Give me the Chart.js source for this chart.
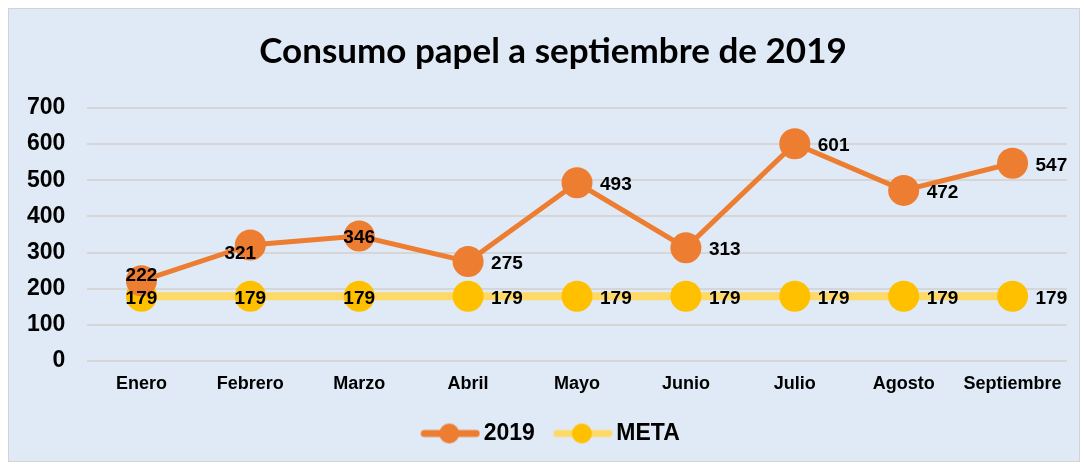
<!DOCTYPE html>
<html>
<head>
<meta charset="utf-8">
<script src="https://cdn.jsdelivr.net/npm/chart.js@4.4.1/dist/chart.umd.min.js"></script>
<style>
  html, body { margin: 0; padding: 0; background: #fff; }
  #frame {
    position: absolute; left: 8px; top: 8px; width: 1072px; height: 454px;
    background: #dfeaf6; border: 1px solid #d3d3d3; box-sizing: border-box;
  }
  #wrap { position: absolute; left: 0; top: 0; width: 1070px; height: 452px; }
</style>
</head>
<body>
<div id="frame"><div id="wrap"><canvas id="cPapel"></canvas></div></div>
<script>
// ===== Consumo papel 2019 =====
const months = ['Enero', 'Febrero', 'Marzo', 'Abril', 'Mayo', 'Junio', 'Julio', 'Agosto', 'Septiembre'];
const consumo2019 = [222, 321, 346, 275, 493, 313, 601, 472, 547];
const meta = [179, 179, 179, 179, 179, 179, 179, 179, 179];
const yTicks = [0, 100, 200, 300, 400, 500, 600, 700];

// where each value label sits relative to its point: c = centered, r = right, t = above
const pos2019 = ['t', 'cl', 'c', 'r', 'r', 'r', 'r', 'r', 'r'];
const posMeta = ['c', 'c', 'c', 'r', 'r', 'r', 'r', 'r', 'r'];

const ORANGE = '#ed7d31';
const YELLOW = '#ffc000';
const YELLOW_LINE = '#ffd966';
const FONT = '"Liberation Sans", Arial, sans-serif';

// legend swatch: line with circle in the middle
function swatch(line, dot, lw) {
    const c = document.createElement('canvas');
    c.width = 62; c.height = 24;
    const x = c.getContext('2d');
    x.strokeStyle = line; x.lineWidth = lw; x.lineCap = 'round';
    x.beginPath(); x.moveTo(6, 12); x.lineTo(58, 12); x.stroke();
    x.fillStyle = dot;
    x.beginPath(); x.arc(31, 12, 10, 0, Math.PI * 2); x.fill();
    return c;
}

const valueLabels = {
    id: 'valueLabels',
    afterDatasetsDraw(chart) {
        const ctx = chart.ctx;
        ctx.save();
        ctx.font = 'bold 19px ' + FONT;
        ctx.fillStyle = '#000';
        ctx.textBaseline = 'middle';
        chart.data.datasets.forEach((ds, di) => {
            const places = ds.label === 'META' ? posMeta : pos2019;
            chart.getDatasetMeta(di).data.forEach((pt, i) => {
                const p = places[i];
                let x = pt.x, y = pt.y + 2;
                ctx.textAlign = 'center';
                if (p === 'r') { ctx.textAlign = 'left'; x += 23; }
                if (p === 't') { y -= 7; }
                if (p === 'cl') { x -= 10; y += 7; }
                ctx.fillText(ds.data[i], x, y);
            });
        });
        ctx.restore();
    }
};

const ctx = document.getElementById('cPapel').getContext('2d');
new Chart(ctx, {
    type: 'line',
    data: {
        labels: months,
        datasets: [
            {
                label: 'META', data: meta, order: 2,
                borderColor: YELLOW_LINE, backgroundColor: YELLOW,
                borderWidth: 8, pointRadius: 15.5, pointHoverRadius: 15.5,
                pointBorderWidth: 0, pointBackgroundColor: YELLOW
            },
            {
                label: '2019', data: consumo2019, order: 1,
                borderColor: ORANGE, backgroundColor: ORANGE,
                borderWidth: 5, pointRadius: 15.5, pointHoverRadius: 15.5,
                pointBorderWidth: 0, pointBackgroundColor: ORANGE
            }
        ]
    },
    options: {
        responsive: true, maintainAspectRatio: false, animation: false,
        layout: { autoPadding: false, padding: { left: 30, right: 12, top: 0, bottom: 6 } },
        plugins: {
            title: {
                display: true, text: 'Consumo papel a septiembre de 2019',
                color: '#000', font: { family: 'Lato, "Open Sans", sans-serif', size: 35, weight: 'bold' },
                padding: { top: 22, bottom: 35 }
            },
            legend: {
                position: 'bottom',
                labels: {
                    color: '#000', font: { family: FONT, size: 23, weight: 'bold' },
                    usePointStyle: true, pointStyleWidth: 46, padding: 24,
                    generateLabels: () => [
                        { text: '2019', pointStyle: swatch(ORANGE, ORANGE, 7), fontColor: '#000', lineWidth: 0, datasetIndex: 1 },
                        { text: 'META', pointStyle: swatch(YELLOW_LINE, YELLOW, 7), fontColor: '#000', lineWidth: 0, datasetIndex: 0 }
                    ]
                }
            },
            tooltip: { enabled: false }
        },
        scales: {
            x: {
                offset: true,
                grid: { display: false },
                border: { display: false },
                ticks: { color: '#000', font: { family: FONT, size: 18, weight: 'bold' }, padding: 4 },
                afterFit: s => { s.height = 37; s.paddingLeft = 0; s.paddingRight = 0; }
            },
            y: {
                min: 0, max: 700,
                afterBuildTicks: s => { s.ticks = yTicks.map(v => ({ value: v })); },
                grid: { color: '#d6d6d6', lineWidth: 2, drawTicks: false },
                border: { display: false },
                // mirrored + far-aligned so the labels are not clipped to the narrow axis box
                ticks: {
                    color: '#000', font: { family: FONT, size: 23, weight: 'bold' },
                    mirror: true, crossAlign: 'far', padding: -60
                },
                afterFit: s => { s.width = 48; }
            }
        }
    },
    plugins: [valueLabels]
});
</script>
</body>
</html>
